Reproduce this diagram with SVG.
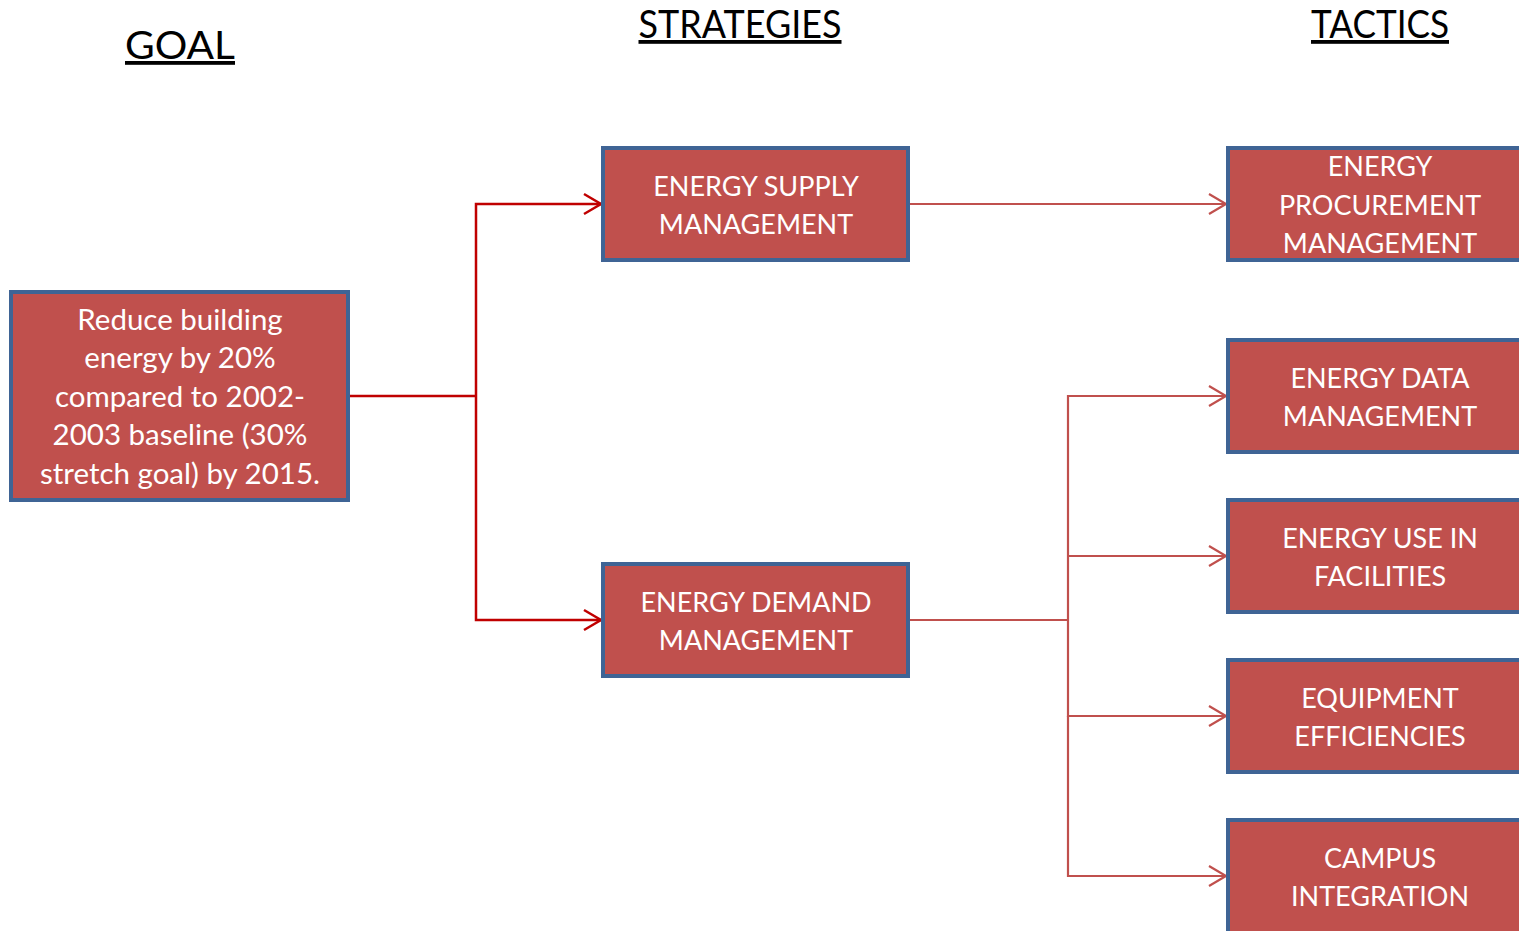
<svg xmlns="http://www.w3.org/2000/svg" width="1519" height="931" viewBox="0 0 1519 931">
<style>
.box{fill:#C0504D;stroke:#3F6495;stroke-width:4}
.t{font-family:Lato,"Liberation Sans",sans-serif;font-size:27px;fill:#fff;text-anchor:middle}
.g{font-size:29.5px}
.h{font-family:Lato,"Liberation Sans",sans-serif;font-size:38px;fill:#000;text-anchor:middle;text-decoration:underline}
.c1{fill:none;stroke:#C00000;stroke-width:2.5}
.c2{fill:none;stroke:#C0504D;stroke-width:2.2}
</style>
<defs>
<marker id="a1" markerUnits="userSpaceOnUse" markerWidth="24" markerHeight="26" refX="22" refY="13" orient="auto">
<path d="M4,3 L21,13 L4,23" fill="none" stroke="#C00000" stroke-width="2.5"/>
</marker>
<marker id="a2" markerUnits="userSpaceOnUse" markerWidth="24" markerHeight="26" refX="22" refY="13" orient="auto">
<path d="M4,3 L21,13 L4,23" fill="none" stroke="#C0504D" stroke-width="2.2"/>
</marker>
</defs>
<rect width="1519" height="931" fill="#fff"/>
<g id="headers">
<text class="h" x="180" y="59" textLength="110" lengthAdjust="spacingAndGlyphs">GOAL</text>
<text class="h" x="740" y="38" textLength="203" lengthAdjust="spacingAndGlyphs">STRATEGIES</text>
<text class="h" x="1380" y="38" textLength="138" lengthAdjust="spacingAndGlyphs">TACTICS</text>
</g>
<g id="connectors">
<path class="c1" d="M349,396 H476"/>
<path class="c1" d="M476,396 V204 H602" marker-end="url(#a1)"/>
<path class="c1" d="M476,396 V620 H602" marker-end="url(#a1)"/>
<path class="c2" d="M910,204 H1227" marker-end="url(#a2)"/>
<path class="c2" d="M910,620 H1068"/>
<path class="c2" d="M1068,620 V396 H1227" marker-end="url(#a2)"/>
<path class="c2" d="M1068,556 H1227" marker-end="url(#a2)"/>
<path class="c2" d="M1068,620 V716 H1227" marker-end="url(#a2)"/>
<path class="c2" d="M1068,716 V876 H1227" marker-end="url(#a2)"/>
</g>
<g id="goal">
<rect class="box" x="11" y="292" width="337" height="208"/>
<text class="t g"><tspan x="180" y="330">Reduce building</tspan><tspan x="180" y="368">energy by 20%</tspan><tspan x="180" y="407">compared to 2002-</tspan><tspan x="180" y="445">2003 baseline (30%</tspan><tspan x="180" y="484">stretch goal) by 2015.</tspan></text>
</g>
<g id="supply">
<rect class="box" x="603" y="148" width="305" height="112"/>
<text class="t"><tspan x="756" y="196">ENERGY SUPPLY</tspan><tspan x="756" y="234">MANAGEMENT</tspan></text>
</g>
<g id="demand">
<rect class="box" x="603" y="564" width="305" height="112"/>
<text class="t"><tspan x="756" y="612">ENERGY DEMAND</tspan><tspan x="756" y="650">MANAGEMENT</tspan></text>
</g>
<g id="procurement">
<rect class="box" x="1228" y="148" width="300" height="112"/>
<text class="t"><tspan x="1380" y="176">ENERGY</tspan><tspan x="1380" y="215">PROCUREMENT</tspan><tspan x="1380" y="253">MANAGEMENT</tspan></text>
</g>
<g id="data">
<rect class="box" x="1228" y="340" width="300" height="112"/>
<text class="t"><tspan x="1380" y="388">ENERGY DATA</tspan><tspan x="1380" y="426">MANAGEMENT</tspan></text>
</g>
<g id="facilities">
<rect class="box" x="1228" y="500" width="300" height="112"/>
<text class="t"><tspan x="1380" y="548">ENERGY USE IN</tspan><tspan x="1380" y="586">FACILITIES</tspan></text>
</g>
<g id="equipment">
<rect class="box" x="1228" y="660" width="300" height="112"/>
<text class="t"><tspan x="1380" y="708">EQUIPMENT</tspan><tspan x="1380" y="746">EFFICIENCIES</tspan></text>
</g>
<g id="campus">
<rect class="box" x="1228" y="820" width="300" height="120"/>
<text class="t"><tspan x="1380" y="868">CAMPUS</tspan><tspan x="1380" y="906">INTEGRATION</tspan></text>
</g>
</svg>
